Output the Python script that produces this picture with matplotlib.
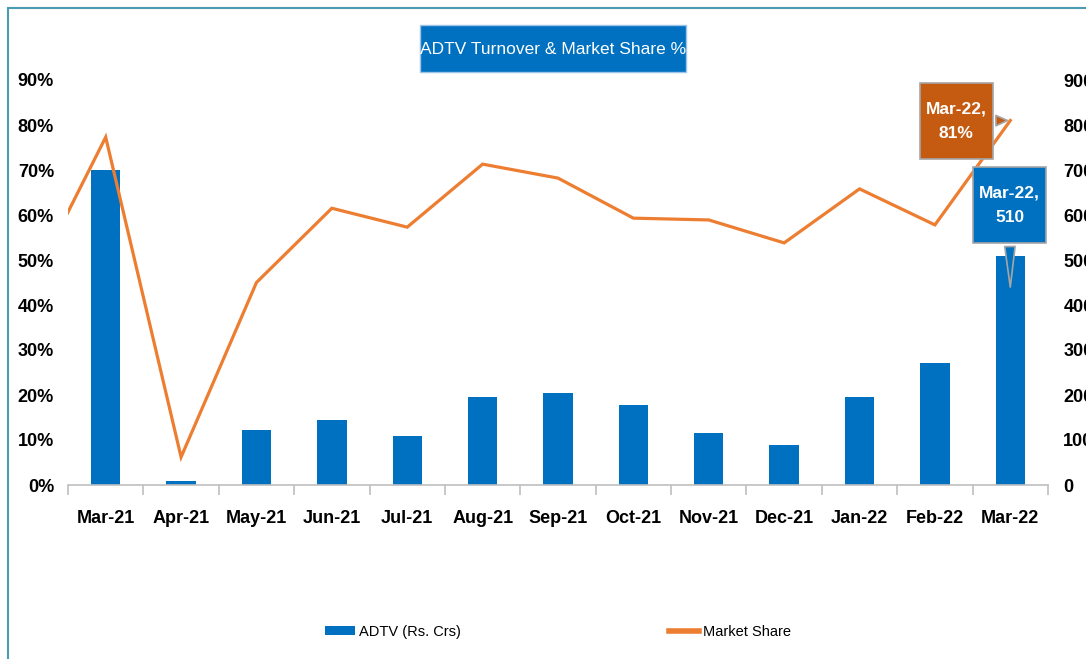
import matplotlib
matplotlib.use("Agg")
import matplotlib.pyplot as plt
from matplotlib.patches import Rectangle
from matplotlib.path import Path
from matplotlib.lines import Line2D
from matplotlib.ticker import FixedLocator

# monthly data
months = ["Mar-21", "Apr-21", "May-21", "Jun-21", "Jul-21", "Aug-21", "Sep-21",
          "Oct-21", "Nov-21", "Dec-21", "Jan-22", "Feb-22", "Mar-22"]
adtv = [700, 10, 122, 145, 110, 195, 205, 178, 115, 90, 195, 272, 510]
# market share %, first value is Feb-21 (only its segment shows at the left edge)
share_prev = 44
share = [77.3, 6.2, 45, 61.5, 57.3, 71.3, 68.2, 59.3, 58.9, 53.8, 65.8, 57.8, 81]
pct_ticks = [0, 10, 20, 30, 40, 50, 60, 70, 80, 90]
adtv_ticks = [0, 100, 200, 300, 400, 500, 600, 700, 800, 900]

plt.rcParams["font.family"] = "Liberation Sans"

blue = "#0070C0"
orange = "#ED7D31"
dark_orange = "#C55A11"


def callout_box(x0, y0, width, height, mutation_size):
    # rectangle with more padding top/bottom than left/right
    px, py = 0.35 * mutation_size, 1.05 * mutation_size
    x0, y0 = x0 - px, y0 - py
    x1, y1 = x0 + width + 2 * px, y0 + height + 2 * py
    return Path([(x0, y0), (x1, y0), (x1, y1), (x0, y1), (x0, y0)], closed=True)


W, H = 1086, 659
fig = plt.figure(figsize=(W / 100, H / 100), dpi=100)
fig.patches.append(Rectangle((8 / W, -0.05), 1.1, 1.05 - 8 / H,
                             transform=fig.transFigure, fill=False,
                             ec="#4A9AB0", lw=1.5))

ax = fig.add_axes([68 / W, 174 / H, 980 / W, 405 / H])
ax2 = ax.twinx()
ax.set_zorder(ax2.get_zorder() + 1)
ax.patch.set_visible(False)

x = list(range(len(months)))
ax2.bar(x, adtv, width=0.39, color=blue)
ax.plot([-1] + x, [share_prev] + share, color=orange, lw=2.3, solid_joinstyle="miter")

ax.set_xlim(-0.5, len(months) - 0.5)
ax.set_ylim(0, 90)
ax2.set_ylim(0, 900)

ax.set_yticks(pct_ticks)
ax.set_yticklabels([f"{t}%" for t in pct_ticks])
ax2.set_yticks(adtv_ticks)
ax2.set_yticklabels([str(t) for t in adtv_ticks])
ax.set_xticks(x)
ax.set_xticklabels(months)
ax.xaxis.set_minor_locator(FixedLocator([i - 0.5 for i in range(len(months) + 1)]))

for a in (ax, ax2):
    for s in a.spines.values():
        s.set_visible(False)
ax.spines["bottom"].set_visible(True)
ax.spines["bottom"].set_color("#BFBFBF")
ax.spines["bottom"].set_linewidth(1.2)

ax.tick_params(axis="y", length=0, pad=10, labelsize=13)
ax2.tick_params(axis="y", length=0, pad=11, labelsize=13)
ax.tick_params(axis="x", which="major", length=0, pad=18, labelsize=13)
ax.tick_params(axis="x", which="minor", length=7, color="#BFBFBF", width=1.2)
for lbl in ax.get_xticklabels() + ax.get_yticklabels() + ax2.get_yticklabels():
    lbl.set_fontweight("bold")

# title box
fig.patches.append(Rectangle((420 / W, 1 - 72 / H), 266 / W, 47 / H,
                             transform=fig.transFigure, fc=blue, ec="#9DC3E6", lw=1))
fig.text(553 / W, 1 - 49 / H, "ADTV Turnover & Market Share %", ha="center", va="center",
         fontsize=12.5, color="white")

# callouts for the last month
ax.annotate(f"{months[-1]},\n{share[-1]:.0f}%", xy=(len(months) - 1, share[-1]),
            xytext=(11.28, 80.9), textcoords="data", ha="center", va="center",
            fontsize=12.5, fontweight="bold", color="white", linespacing=1.8, zorder=10,
            bbox=dict(boxstyle=callout_box, fc=dark_orange, ec="#A6A6A6", lw=1.2),
            arrowprops=dict(arrowstyle="wedge,tail_width=0.6,shrink_factor=0.5",
                            fc=dark_orange, ec="#A6A6A6", lw=1.2))
ax.annotate(f"{months[-1]},\n{adtv[-1]}", xy=(len(months) - 1, adtv[-1] * 0.85),
            xycoords=ax2.transData, xytext=(11.99, 622), textcoords=ax2.transData,
            ha="center", va="center",
            fontsize=12.5, fontweight="bold", color="white", linespacing=1.8, zorder=11,
            bbox=dict(boxstyle=callout_box, fc=blue, ec="#A6A6A6", lw=1.2),
            arrowprops=dict(arrowstyle="wedge,tail_width=0.6,shrink_factor=0.5",
                            fc=blue, ec="#A6A6A6", lw=1.2))

handles = [Rectangle((0, 0), 1, 1, fc=blue),
           Line2D([0], [0], color=orange, lw=4)]
fig.legend(handles, ["ADTV (Rs. Crs)", "Market Share"], loc="center left",
           bbox_to_anchor=(318 / W, 1 - 632 / H), ncol=2, frameon=False, borderpad=0,
           fontsize=10.5, columnspacing=14.3, handlelength=2.05, handleheight=0.55,
           handletextpad=0.25)

fig.savefig("out.png", dpi=100)
